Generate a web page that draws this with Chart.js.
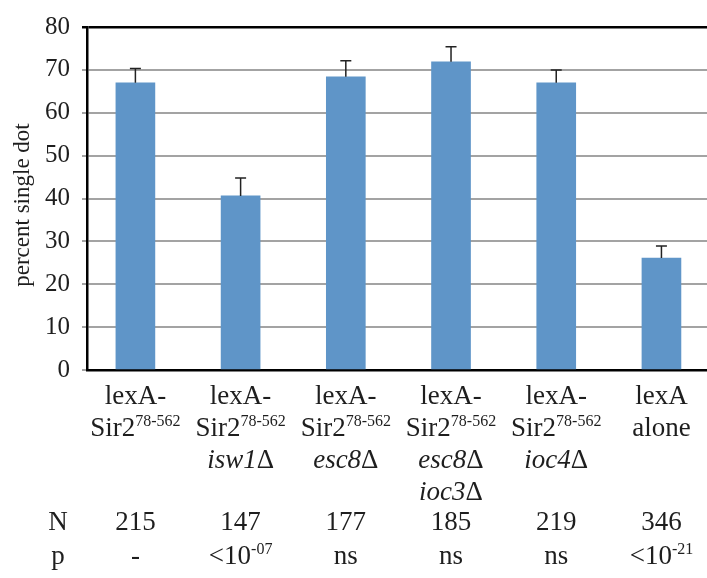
<!DOCTYPE html>
<html>
<head>
<meta charset="utf-8">
<script src="https://cdn.jsdelivr.net/npm/chart.js@4"></script>
<style>
  html, body { margin: 0; padding: 0; background: #fff; overflow: hidden; }
  #wrap { width: 707px; height: 578px; position: relative; }
</style>
</head>
<body>
<div id="wrap"><canvas id="chart"></canvas></div>
<script>
// data
const categories = [
    ['lexA-', 'Sir2^{78-562}'],
    ['lexA-', 'Sir2^{78-562}', '*isw1*Δ'],
    ['lexA-', 'Sir2^{78-562}', '*esc8*Δ'],
    ['lexA-', 'Sir2^{78-562}', '*esc8*Δ', '*ioc3*Δ'],
    ['lexA-', 'Sir2^{78-562}', '*ioc4*Δ'],
    ['lexA', 'alone']
];
const percentSingleDot = [67.0, 40.6, 68.4, 71.9, 67.0, 26.1];
const errorUp = [3.3, 4.2, 3.7, 3.5, 3.0, 2.8];
const nCounts = ['215', '147', '177', '185', '219', '346'];
const pValues = ['-', '<10^{-07}', 'ns', 'ns', 'ns', '<10^{-21}'];
const yTicks = [0, 10, 20, 30, 40, 50, 60, 70, 80];

const SERIF = '"Liberation Serif", "Times New Roman", serif';
const INK = '#1e1e1e';
Chart.defaults.font.family = SERIF;

// split a line like 'Sir2^{78-562}' or '*isw1*Δ' into styled pieces
function parseRich(str) {
    const parts = str.split(/(\^\{[^}]*\}|\*[^*]*\*)/).filter(s => s.length);
    return parts.map(p => {
        if (p.startsWith('^{')) return { text: p.slice(2, -1), sup: true };
        if (p.startsWith('*')) return { text: p.slice(1, -1), italic: true };
        return { text: p };
    });
}

function drawRich(ctx, str, cx, baseline, size) {
    const segs = parseRich(str);
    const supSize = Math.round(size * 0.6);
    const fontFor = s => (s.italic ? 'italic ' : '') + (s.sup ? supSize : size) + 'px ' + SERIF;
    let total = 0;
    segs.forEach(s => { ctx.font = fontFor(s); s.w = ctx.measureText(s.text).width; total += s.w; });
    let x = cx - total / 2;
    ctx.textAlign = 'left';
    ctx.textBaseline = 'alphabetic';
    segs.forEach(s => {
        ctx.font = fontFor(s);
        ctx.fillText(s.text, x, s.sup ? baseline - size * 0.36 : baseline);
        x += s.w;
    });
}

const extrasPlugin = {
    id: 'extras',
    afterDatasetsDraw(chart) {
        const ctx = chart.ctx;
        const xs = chart.scales.x, ys = chart.scales.y;
        ctx.save();
        // error bars (upper only)
        ctx.strokeStyle = '#222';
        ctx.lineWidth = 1.5;
        percentSingleDot.forEach((v, i) => {
            const x = xs.getPixelForValue(i);
            const y0 = ys.getPixelForValue(v);
            const y1 = ys.getPixelForValue(v + errorUp[i]);
            ctx.beginPath();
            ctx.moveTo(x, y0);
            ctx.lineTo(x, y1);
            ctx.moveTo(x - 5.5, y1);
            ctx.lineTo(x + 5.5, y1);
            ctx.stroke();
        });
        ctx.restore();
    },
    afterDraw(chart) {
        const ctx = chart.ctx;
        const xs = chart.scales.x;
        ctx.save();
        ctx.fillStyle = INK;
        // category labels
        categories.forEach((lines, i) => {
            const cx = xs.getPixelForValue(i);
            lines.forEach((line, j) => drawRich(ctx, line, cx, 404 + j * 32, 27));
        });
        // N and p rows
        drawRich(ctx, 'N', 58, 530, 27);
        drawRich(ctx, 'p', 58, 564, 27);
        nCounts.forEach((n, i) => drawRich(ctx, n, xs.getPixelForValue(i), 530, 27));
        pValues.forEach((p, i) => drawRich(ctx, p, xs.getPixelForValue(i), 564, 27));
        // y axis title
        ctx.translate(23, 205);
        ctx.rotate(-Math.PI / 2);
        ctx.font = '23px ' + SERIF;
        ctx.textAlign = 'center';
        ctx.textBaseline = 'middle';
        ctx.fillText('percent single dot', 0, 0);
        ctx.restore();
    }
};

new Chart(document.getElementById('chart'), {
    type: 'bar',
    data: {
        datasets: [{
            data: percentSingleDot.map((v, i) => ({ x: i, y: v })),
            backgroundColor: '#5f95c8',
            borderWidth: 0,
            barThickness: 39
        }]
    },
    options: {
        responsive: true,
        maintainAspectRatio: false,
        animation: false,
        layout: { padding: { top: 24, right: 0, bottom: 208, left: 0 } },
        plugins: { legend: { display: false }, tooltip: { enabled: false } },
        scales: {
            x: {
                type: 'linear',
                offset: false,
                min: -0.46,
                max: 5.433,
                grid: { display: false },
                ticks: { display: false },
                border: { display: true, color: '#000', width: 2.5 },
                afterFit: s => { s.height = 0; }
            },
            y: {
                min: 0,
                max: 80,
                afterBuildTicks: s => { s.ticks = yTicks.map(v => ({ value: v })); },
                ticks: {
                    font: { family: SERIF, size: 25 },
                    color: INK,
                    padding: 12
                },
                grid: {
                    color: c => c.tick && c.tick.value === 80 ? '#000' : '#a3a3a3',
                    lineWidth: c => c.tick && c.tick.value === 80 ? 2.5 : 2,
                    tickLength: 5
                },
                border: { display: true, color: '#000', width: 2.5 },
                afterFit: s => { s.width = 87; }
            }
        }
    },
    plugins: [extrasPlugin]
});
</script>
</body>
</html>
